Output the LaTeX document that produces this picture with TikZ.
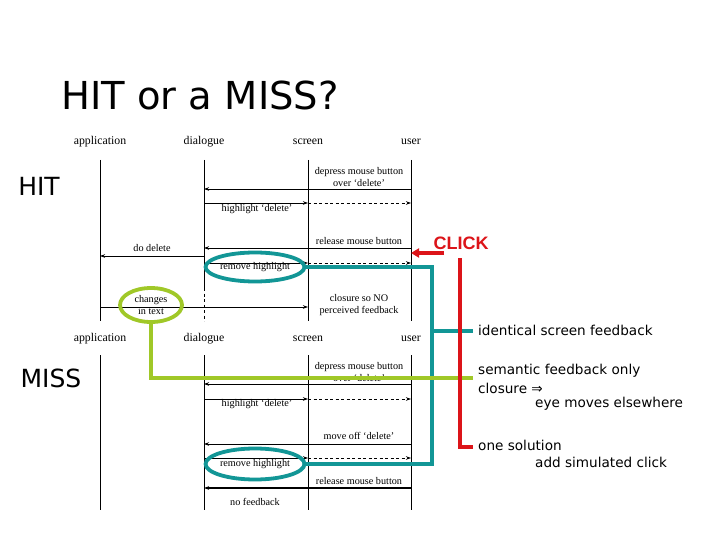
\documentclass[tikz,border=0pt]{standalone}
\usepackage{fontspec}
\setmainfont{Liberation Serif}
\newfontfamily\dvsans{DejaVu Sans}
\newfontfamily\arialfont{Liberation Sans}
\usetikzlibrary{arrows.meta,calc,shapes.geometric}
\definecolor{tealc}{RGB}{18,150,150}
\definecolor{greenc}{RGB}{160,200,40}
\definecolor{redc}{RGB}{220,20,25}
\begin{document}
\begin{tikzpicture}[x=1pt,y=-1pt,
  hdr/.style={font=\fontsize{11.8}{12}\selectfont, inner sep=0pt},
  lbl/.style={font=\fontsize{10.2}{11.5}\selectfont, inner sep=0pt, align=center},
  life/.style={line width=0.8pt},
  msg/.style={line width=0.8pt, -{Stealth[length=5pt,width=3.5pt]}},
  fb/.style={msg, dash pattern=on 3pt off 2.5pt},
  ring/.style={ellipse, line width=3.8pt, inner sep=0pt, align=center, font=\fontsize{10.2}{11.5}\selectfont},
  tline/.style={draw=tealc, line width=3.5pt},
  gline/.style={draw=greenc, line width=3.5pt},
  rline/.style={draw=redc, line width=3.5pt},
  note/.style={font=\dvsans\fontsize{13.6}{15}\selectfont, inner sep=0pt, anchor=west},
  big/.style={font=\dvsans\fontsize{25}{27}\selectfont, inner sep=0pt}
]
\useasboundingbox (0,0) rectangle (720,540);
\fill[white] (0,0) rectangle (720,540);

% title and labels
\node[inner sep=0pt, font=\dvsans\fontsize{38.5}{40}\selectfont] (title) at (200,95) {HIT or a MISS?};
\node[big] (hit) at (39,186) {HIT};
\node[big] (miss) at (51,378) {MISS};

% ---------- upper (HIT) ----------
\node[hdr] (a1) at (100,142) {application};
\node[hdr] (d1) at (204,142) {dialogue};
\node[hdr] (s1) at (308,142) {screen};
\node[hdr] (u1) at (411,142) {user};
\draw[life] (a1 |- 0,160) -- (a1 |- 0,321);
\draw[life] (d1 |- 0,160) -- (d1 |- 0,288);
\draw[life, dash pattern=on 3pt off 2.5pt] (d1 |- 0,288) -- (d1 |- 0,321);
\draw[life] (s1 |- 0,160) -- (s1 |- 0,321);
\draw[life] (u1 |- 0,160) -- (u1 |- 0,321);

\node[lbl] (t1) at (359,177) {depress mouse button\\over `delete'};
\draw[msg] (u1 |- 0,189) -- (d1 |- 0,189);
\draw[msg] (d1 |- 0,203) -- (s1 |- 0,203);
\draw[fb] (s1 |- 0,203) -- (u1 |- 0,203);
\node[lbl] (t2) at (257,209) {highlight `delete'};
\node[lbl] (t3) at (359,241) {release mouse button};
\draw[msg] (u1 |- 0,248) -- (d1 |- 0,248);
\node[lbl] (t4) at (152,248) {do delete};
\draw[msg] (d1 |- 0,256) -- (a1 |- 0,256);
\draw[msg] (d1 |- 0,263) -- (s1 |- 0,263);
\draw[fb] (s1 |- 0,263) -- (u1 |- 0,263);
\draw[msg] (a1 |- 0,307) -- (s1 |- 0,307);
\node[ring, draw=tealc, minimum width=92pt, minimum height=29pt] (rh1) at (255,267) {remove highlight};
\node[ring, draw=greenc, minimum width=62pt, minimum height=34pt] (cht) at (151,305) {changes\\in text};
\node[lbl] (t5) at (359,305) {closure so NO\\perceived feedback};

% ---------- lower (MISS) ----------
\node[hdr] (a2) at (100,339) {application};
\node[hdr] (d2) at (204,339) {dialogue};
\node[hdr] (s2) at (308,339) {screen};
\node[hdr] (u2) at (411,339) {user};
\draw[life] (a2 |- 0,355) -- (a2 |- 0,510);
\draw[life] (d2 |- 0,355) -- (d2 |- 0,510);
\draw[life] (s2 |- 0,355) -- (s2 |- 0,510);
\draw[life] (u2 |- 0,355) -- (u2 |- 0,510);

\node[lbl] (m1) at (359,372) {depress mouse button\\over `delete'};
\draw[msg] (u2 |- 0,384) -- (d2 |- 0,384);
\draw[msg] (d2 |- 0,399) -- (s2 |- 0,399);
\draw[fb] (s2 |- 0,399) -- (u2 |- 0,399);
\node[lbl] (m2) at (257,404) {highlight `delete'};
\node[lbl] (m3) at (359,436) {move off `delete'};
\draw[msg] (u2 |- 0,444) -- (d2 |- 0,444);
\draw[msg] (d2 |- 0,458) -- (s2 |- 0,458);
\draw[fb] (s2 |- 0,458) -- (u2 |- 0,458);
\node[ring, draw=tealc, minimum width=92pt, minimum height=31pt] (rh2) at (255,464) {remove highlight};
\node[lbl] (m4) at (359,481) {release mouse button};
\draw[msg, line width=1.1pt] (u2 |- 0,488) -- (d2 |- 0,488);
\node[lbl] (m5) at (255,502) {no feedback};

% ---------- annotations ----------
\node[note] (n1) at (478,330) {identical screen feedback};
\node[note] (n2) at (478,371) {semantic feedback only};
\node[note] (n3) at (478,388) {closure ⇒};
\node[note] (n4) at (535,404) {eye moves elsewhere};
\node[note] (n5) at (478,445) {one solution};
\node[note] (n6) at (535,462) {add simulated click};

\coordinate (tc) at (432,331);
\coordinate (te) at (473,331);
\draw[tline] (rh1.east) -| (tc) |- (rh2.east);
\draw[tline] (tc) -- (te);

\coordinate (ge) at (473,378);
\draw[gline] (cht.south) |- (ge);

\node[inner sep=0pt, font=\arialfont\bfseries\fontsize{18}{20}\selectfont, text=redc] (click) at (461,243) {CLICK};
\coordinate (cs) at (444,253);
\draw[draw=redc, line width=3.5pt, -{Triangle[length=8pt,width=9pt]}] (cs) -- (u1 |- 0,253);
\coordinate (rt) at (460,258);
\coordinate (re) at (473,447);
\draw[rline] (rt) |- (re);
\end{tikzpicture}
\end{document}
